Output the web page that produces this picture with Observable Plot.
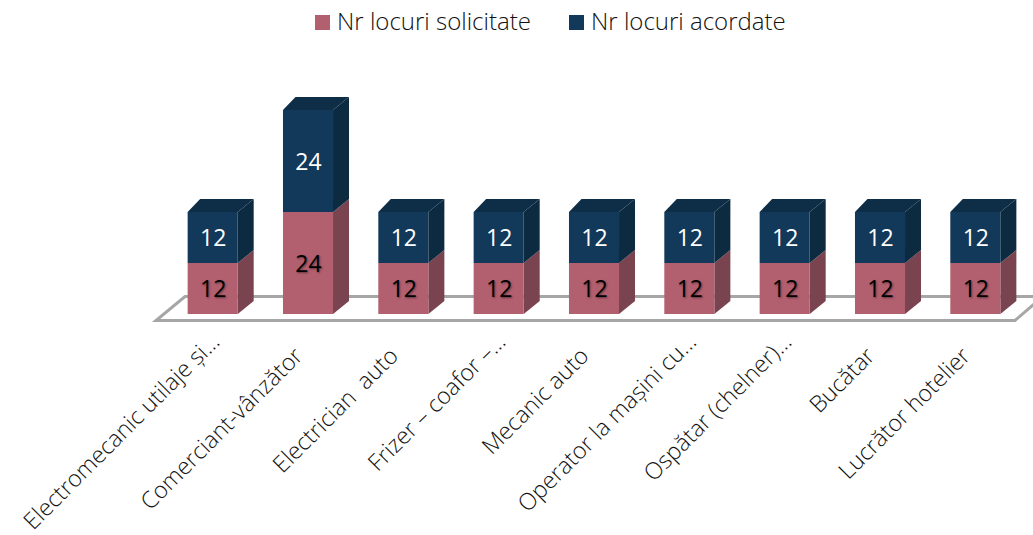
<!DOCTYPE html>
<html><head><meta charset="utf-8">
<script src="https://cdn.jsdelivr.net/npm/d3@7"></script>
<script src="https://cdn.jsdelivr.net/npm/@observablehq/plot@0.6"></script>
<style>
html,body{margin:0;padding:0;background:#fff;overflow:hidden}
#legend{position:relative;height:44px;font:300 24px "Open Sans",sans-serif;color:#111}
#legend span{position:absolute;top:6px;white-space:pre;line-height:30px}
#legend i{position:absolute;top:15px;width:15px;height:15px}
svg text{white-space:pre}
</style></head><body>
<div id="legend"></div>
<div id="chart"></div>
<script>
const categories = ["Electromecanic utilaje și...","Comerciant-vânzător","Electrician  auto","Frizer – coafor –...","Mecanic auto","Operator la mașini cu...","Ospătar (chelner)...","Bucătar","Lucrător hotelier"];
const solicitate = [12,24,12,12,12,12,12,12,12];
const acordate  = [12,24,12,12,12,12,12,12,12];
const seriesNames = ["Nr locuri solicitate","Nr locuri acordate"];
const frontColors = ["#b25f6f","#12395a"];
const sideColors  = ["#79434f","#0c2a40"];
const topColor = "#0e2d46";
const legendX = [[315,337],[569,591]];

const rows = categories.flatMap((c,i)=>[
  {cat:c, series:seriesNames[0], value:solicitate[i]},
  {cat:c, series:seriesNames[1], value:acordate[i]}
]);

const DX=16, DXL=12.5, DY=13;
const NS="http://www.w3.org/2000/svg";
const face = (kind)=>function(index,scales,values,dims,ctx,next){
  const g=next(index,scales,values,dims,ctx);
  g.querySelectorAll("rect").forEach(r=>{
    const x=+r.getAttribute("x"),y=+r.getAttribute("y"),w=+r.getAttribute("width"),h=+r.getAttribute("height");
    const p=document.createElementNS(NS,"polygon");
    const pts = kind==="side"
      ? [[x+w,y],[x+w+DX,y-DY],[x+w+DX,y+h-DY],[x+w,y+h]]
      : [[x,y],[x+DXL,y-DY],[x+w+DX,y-DY],[x+w,y]];
    p.setAttribute("points",pts.map(q=>q.join(",")).join(" "));
    const f=r.getAttribute("fill"); if(f) p.setAttribute("fill",f);
    r.replaceWith(p);
  });
  return g;
};
const floor=function(index,scales,values,dims,ctx,next){
  const g=next(index,scales,values,dims,ctx);
  const l=g.querySelector("line");
  const a=dims.marginLeft,b=dims.width-dims.marginRight;
  const y=scales.y(0);
  const p=document.createElementNS(NS,"polygon");
  p.setAttribute("points",[[a-9,y+6],[b-8,y+6],[b+20,y-18],[a+20,y-18]].map(q=>q.join(",")).join(" "));
  p.setAttribute("fill","none");p.setAttribute("stroke","#a6a6a6");p.setAttribute("stroke-width","3");
  l.replaceWith(p);
  return g;
};
const stack=(o)=>Plot.stackY({x:"cat",y:"value",order:null,...o});
const isS=(d,i)=>d.series===seriesNames[i];
const dots=categories.filter(c=>c.endsWith("..."));
const plain=categories.filter(c=>!c.endsWith("..."));
const lift=(ox,oy)=>function(index,scales,values,dims,ctx,next){
  const g=next(index,scales,values,dims,ctx);
  g.setAttribute("transform",`translate(${ox},${scales.y(0)+14-dims.height+oy})`);
  return g;
};
const tickStyle={anchor:"bottom",tickSize:0,tickRotate:-45,tickPadding:0,fontSize:23.2,fontWeight:300,
  fontFamily:"Open Sans",fill:"#111",label:null,textAnchor:"end"};

const chart=Plot.plot({
  width:1033,height:491,
  marginLeft:165,marginRight:10,marginTop:0,marginBottom:0,
  style:{background:"transparent",overflow:"hidden"},
  x:{domain:categories,paddingInner:0.475,paddingOuter:0.2375,round:false,label:null},
  y:{domain:[0,48],range:[270,66],axis:null},
  marks:[
    Plot.ruleY([0],{stroke:"#a6a6a6",render:floor}),
    Plot.barY(rows,stack({fill:d=>isS(d,0)?sideColors[0]:"none",render:face("side")})),
    Plot.barY(rows,stack({fill:d=>isS(d,0)?frontColors[0]:"none"})),
    Plot.barY(rows,stack({fill:d=>isS(d,1)?sideColors[1]:"none",render:face("side")})),
    Plot.barY(rows,stack({fill:d=>isS(d,1)?topColor:"none",render:face("top")})),
    Plot.barY(rows,stack({fill:d=>isS(d,1)?frontColors[1]:"none"})),
    Plot.text(rows,stack({text:"value",fill:d=>isS(d,0)?"#000":"#fff",fontSize:23,fontFamily:"Open Sans",dy:1})),
    Plot.axisX(plain,{...tickStyle,dx:14,dy:25,render:lift(16,24)}),
    Plot.axisX(dots,{...tickStyle,dx:42,dy:5,render:lift(28,10)})
  ]
});
document.getElementById("chart").append(chart);
const lg=document.getElementById("legend");
seriesNames.forEach((n,i)=>{
  const sw=document.createElement("i");sw.style.left=legendX[i][0]+"px";sw.style.background=frontColors[i];
  const t=document.createElement("span");t.style.left=legendX[i][1]+"px";t.textContent=n;
  lg.append(sw,t);
});
chart.querySelectorAll("text").forEach(t=>{
  if(/^(12|24)$/.test(t.textContent)&&t.getAttribute("fill")==="#000")
    t.style.textShadow="1px 1px 2px rgba(0,0,0,.45)";
});
</script>
</body></html>
